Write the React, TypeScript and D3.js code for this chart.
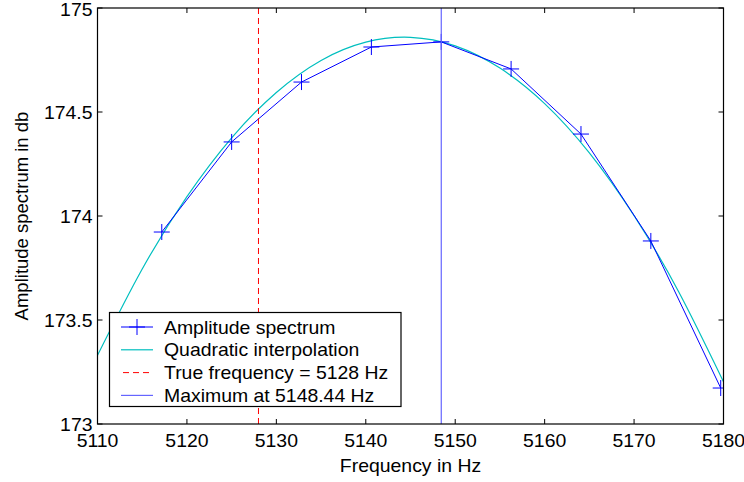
import React from "react";
import * as d3 from "d3";

const spectrumFreq = [5117.1875, 5125, 5132.8125, 5140.625, 5148.4375, 5156.25, 5164.0625, 5171.875, 5179.6875];
const spectrumAmp = [173.923, 174.356, 174.644, 174.8125, 174.837, 174.707, 174.394, 173.88, 173.173];
const quadFreq = [5110, 5115, 5120, 5125, 5130, 5135, 5140, 5145, 5150, 5155, 5160, 5165, 5170, 5175, 5180];
const quadAmp = [173.33, 173.745, 174.093, 174.376, 174.594, 174.748, 174.836, 174.859, 174.818, 174.711, 174.54, 174.303, 174.001, 173.635, 173.203];
const trueFreq = 5128;
const maxFreq = 5148.44;
const xTicks = [5110, 5120, 5130, 5140, 5150, 5160, 5170, 5180];
const yTicks = [173, 173.5, 174, 174.5, 175];
const legendLabels = ["Amplitude spectrum", "Quadratic interpolation", "True frequency = 5128 Hz", "Maximum at 5148.44 Hz"];

const W = 744, H = 482;
const L = 97.5, R = 723.5, T = 8, B = 424;
const FONT = "'Liberation Sans', Arial, Helvetica, sans-serif";
const FS = 17.5;
const SX = 1.11;

function T2({ x, y, anchor = "start", children }: { x: number; y: number; anchor?: string; children: React.ReactNode }) {
  return (
    <text transform={`translate(${x},${y}) scale(${SX},1)`} textAnchor={anchor as any} fontSize={FS} fill="#000">{children}</text>
  );
}

export default function App() {
  const x = d3.scaleLinear().domain([5110, 5180]).range([L, R]);
  const y = d3.scaleLinear().domain([173, 175]).range([B, T]);
  const spec = spectrumFreq.map((f, i) => [f, spectrumAmp[i]] as [number, number]);
  const quad = quadFreq.map((f, i) => [f, quadAmp[i]] as [number, number]);
  const line = d3.line<[number, number]>().x(d => x(d[0])).y(d => y(d[1]));
  const curve = d3.line<[number, number]>().x(d => x(d[0])).y(d => y(d[1])).curve(d3.curveNatural);
  const tl = 5;
  const blue = "#0000ff";
  const cyan = "#00bfbf";
  const maxBlue = "#6565ff";
  const lgX = 109.5, lgY = 312.5, lgW = 291.5, lgH = 94;
  const rowY = (i: number) => 327 + i * 22.8;
  const plus = (cx: number, cy: number, k: number, s = 8) => (
    <path key={k} d={`M${cx - s},${cy}H${cx + s}M${cx},${cy - s}V${cy + s}`} stroke={blue} strokeWidth={1} fill="none" />
  );
  return (
    <svg width={W} height={H} style={{ position: "absolute", left: 0, top: 0, background: "#fff" }} fontFamily={FONT}>
      <rect x={0} y={0} width={W} height={H} fill="#fff" />
      <defs>
        <clipPath id="clip"><rect x={L} y={T} width={R - L} height={B - T} /></clipPath>
      </defs>
      <g clipPath="url(#clip)">
        <path d={curve(quad) || ""} fill="none" stroke={cyan} strokeWidth={1.2} />
        <path d={line(spec) || ""} fill="none" stroke={blue} strokeWidth={1} />
        {spec.map((d, i) => plus(x(d[0]), y(d[1]), i))}
        <line x1={x(trueFreq)} x2={x(trueFreq)} y1={T} y2={B} stroke="#ff0000" strokeWidth={1} strokeDasharray="6,4" />
        <line x1={x(maxFreq)} x2={x(maxFreq)} y1={T} y2={B} stroke={maxBlue} strokeWidth={1.2} />
      </g>
      <rect x={L} y={T} width={R - L} height={B - T} fill="none" stroke="#000" strokeWidth={1.2} />
      {xTicks.map(t => (
        <g key={t}>
          <line x1={x(t)} x2={x(t)} y1={B} y2={B - tl} stroke="#000" />
          <line x1={x(t)} x2={x(t)} y1={T} y2={T + tl} stroke="#000" />
          <T2 x={x(t)} y={446.5} anchor="middle">{t}</T2>
        </g>
      ))}
      {yTicks.map(t => (
        <g key={t}>
          <line x1={L} x2={L + tl} y1={y(t)} y2={y(t)} stroke="#000" />
          <line x1={R} x2={R - tl} y1={y(t)} y2={y(t)} stroke="#000" />
          <T2 x={92.5} y={y(t) + (t === 175 ? 8 : 6.5)} anchor="end">{t}</T2>
        </g>
      ))}
      <T2 x={(L + R) / 2} y={471.5} anchor="middle">Frequency in Hz</T2>
      <text transform={`translate(28,${(T + B) / 2}) rotate(-90)`} textAnchor="middle" fontSize={18.5} fill="#000">Amplitude spectrum in db</text>
      <rect x={lgX} y={lgY} width={lgW} height={lgH} fill="#fff" stroke="#000" strokeWidth={1.2} />
      <line x1={121} x2={153} y1={rowY(0)} y2={rowY(0)} stroke={blue} />
      {plus(137, rowY(0), 99)}
      <line x1={121} x2={153} y1={rowY(1)} y2={rowY(1)} stroke={cyan} strokeWidth={1.2} />
      <line x1={121} x2={153} y1={rowY(2)} y2={rowY(2)} stroke="#ff0000" strokeDasharray="6,4" strokeDashoffset={-2} />
      <line x1={121} x2={153} y1={rowY(3)} y2={rowY(3)} stroke={maxBlue} strokeWidth={1.2} />
      {legendLabels.map((s, i) => (
        <T2 key={s} x={164} y={rowY(i) + 6.5}>{s}</T2>
      ))}
    </svg>
  );
}
